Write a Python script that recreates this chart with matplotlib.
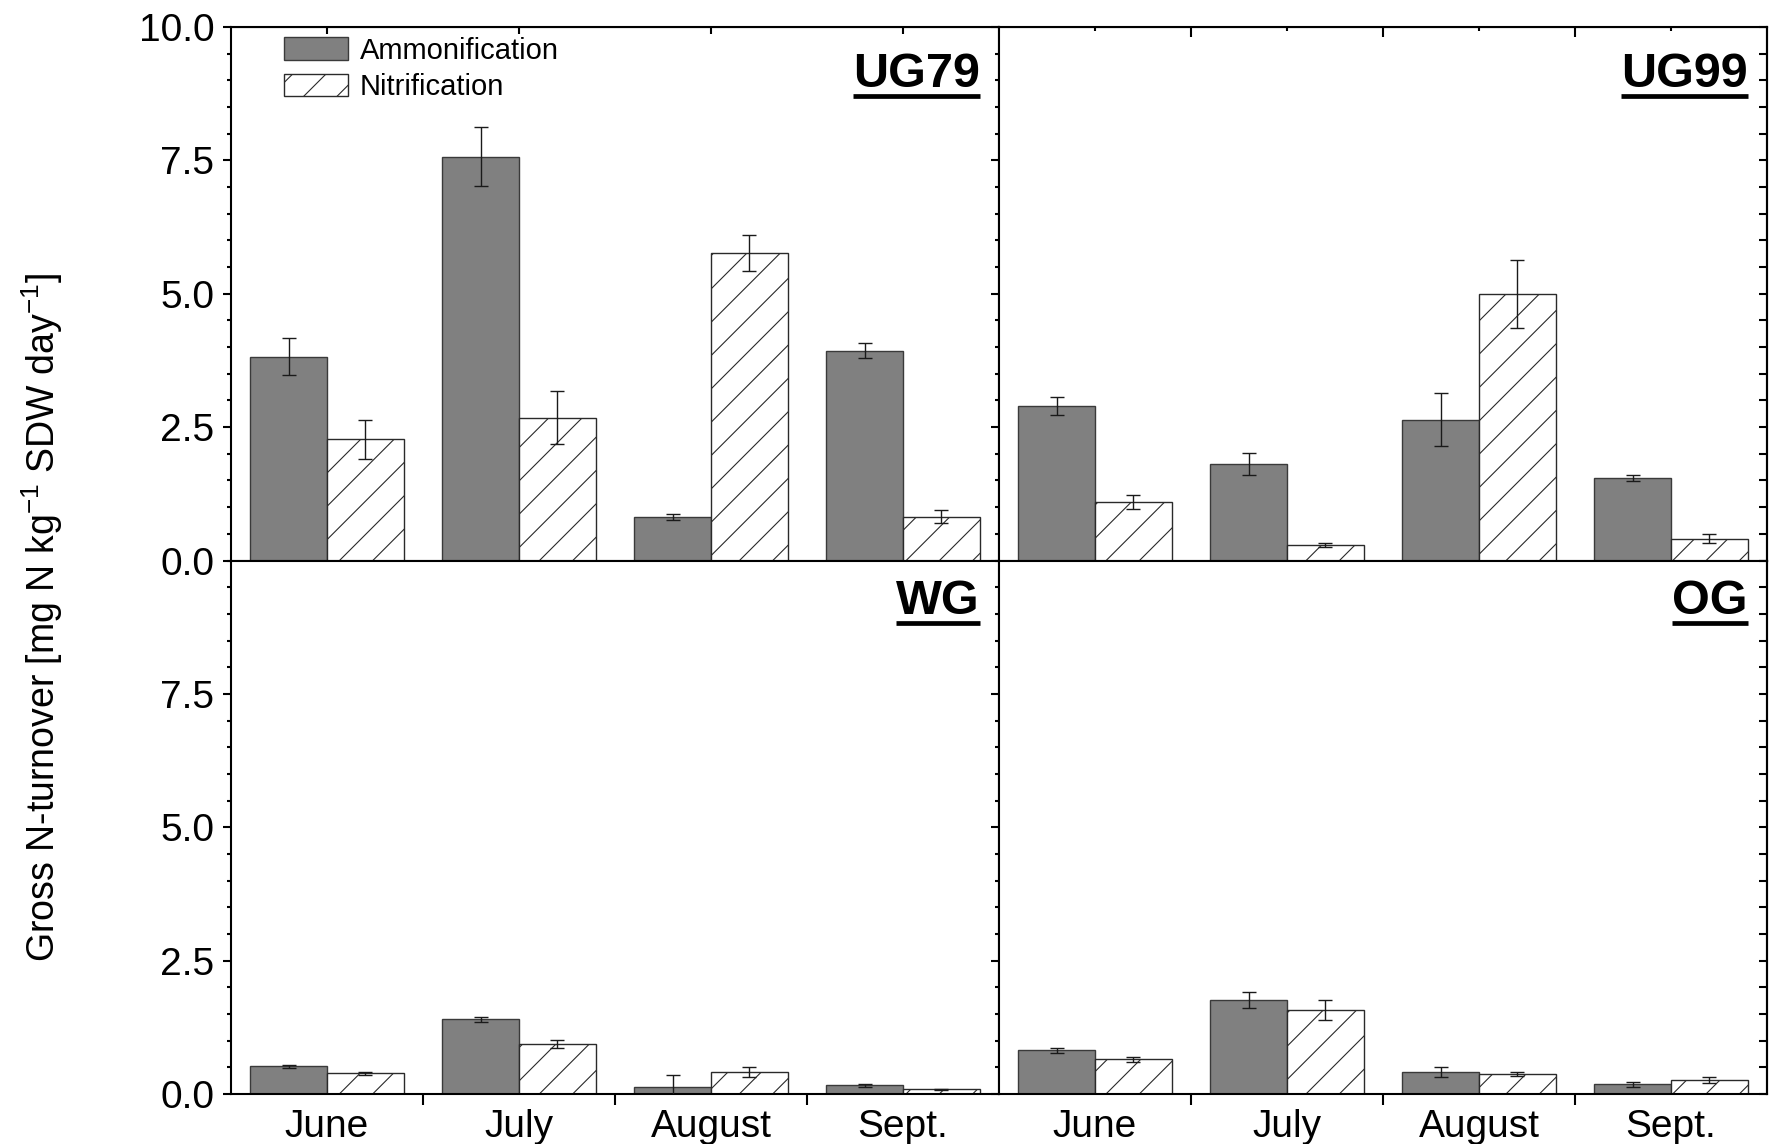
import numpy as np
import matplotlib
matplotlib.use("Agg")
import matplotlib.pyplot as plt
from matplotlib.ticker import MultipleLocator, FormatStrFormatter

plt.rcParams["font.family"] = ["Liberation Sans", "DejaVu Sans"]
plt.rcParams["mathtext.fontset"] = "custom"
plt.rcParams["mathtext.rm"] = "Liberation Sans"
plt.rcParams["mathtext.it"] = "Liberation Sans:italic"
plt.rcParams["hatch.linewidth"] = 0.8

months = ["June", "July", "August", "Sept."]
sites = ["UG79", "UG99", "WG", "OG"]

ammon_ug79 = [3.82, 7.57, 0.82, 3.93]
ammon_ug79_err = [0.35, 0.55, 0.06, 0.14]
nitr_ug79 = [2.27, 2.68, 5.77, 0.82]
nitr_ug79_err = [0.37, 0.50, 0.34, 0.12]

ammon_ug99 = [2.90, 1.81, 2.64, 1.55]
ammon_ug99_err = [0.17, 0.21, 0.50, 0.06]
nitr_ug99 = [1.09, 0.29, 5.00, 0.41]
nitr_ug99_err = [0.13, 0.04, 0.64, 0.09]

ammon_wg = [0.52, 1.40, 0.13, 0.16]
ammon_wg_err = [0.03, 0.05, 0.22, 0.03]
nitr_wg = [0.39, 0.94, 0.41, 0.09]
nitr_wg_err = [0.025, 0.08, 0.09, 0.01]

ammon_og = [0.82, 1.77, 0.41, 0.18]
ammon_og_err = [0.05, 0.15, 0.09, 0.04]
nitr_og = [0.65, 1.57, 0.37, 0.27]
nitr_og_err = [0.05, 0.19, 0.04, 0.055]

panels = {
    "UG79": (ammon_ug79, ammon_ug79_err, nitr_ug79, nitr_ug79_err),
    "UG99": (ammon_ug99, ammon_ug99_err, nitr_ug99, nitr_ug99_err),
    "WG": (ammon_wg, ammon_wg_err, nitr_wg, nitr_wg_err),
    "OG": (ammon_og, ammon_og_err, nitr_og, nitr_og_err),
}

GREY = "#808080"
W = 0.4
TICK = 28
LW = 1.5

fig, axes = plt.subplots(2, 2, figsize=(17.69, 11.44), dpi=100)
fig.subplots_adjust(left=0.1306, right=0.9989, top=0.9764, bottom=0.0437,
                    wspace=0, hspace=0)

centers = np.arange(len(months)) + 0.5
labels = {}
for ax, site in zip(axes.flat, sites):
    am, am_e, ni, ni_e = panels[site]
    ax.bar(centers - W / 2, am, W, color=GREY, edgecolor="#3a3a3a",
           linewidth=1, label="Ammonification", zorder=2)
    ax.bar(centers + W / 2, ni, W, color="white", edgecolor="#2a2a2a",
           hatch="/", linewidth=1, label="Nitrification", zorder=2)
    ax.errorbar(centers - W / 2, am, yerr=am_e, fmt="none", ecolor="#1a1a1a",
                elinewidth=1, capsize=5, capthick=1, zorder=3)
    ax.errorbar(centers + W / 2, ni, yerr=ni_e, fmt="none", ecolor="#1a1a1a",
                elinewidth=1, capsize=5, capthick=1, zorder=3)

    ax.set_xlim(0, 4)
    ax.set_ylim(0, 10)
    for s in ax.spines.values():
        s.set_linewidth(LW)

    # y ticks: outward on the left, inward on the far right spine
    ax.yaxis.set_minor_locator(MultipleLocator(0.5))
    top_row = site in ("UG79", "UG99")
    left_col = site in ("UG79", "WG")
    ax.set_yticks([0, 2.5, 5, 7.5, 10] if top_row else [0, 2.5, 5, 7.5])
    ax.tick_params(axis="y", which="major", direction="out", length=6,
                   width=LW, labelsize=TICK, pad=6)
    ax.tick_params(axis="y", which="minor", direction="out", length=3, width=LW)
    if left_col:
        ax.yaxis.set_major_formatter(FormatStrFormatter("%.1f"))
    else:
        ax.tick_params(axis="y", labelleft=False)
        sec = ax.secondary_yaxis("right")
        sec.set_yticks(np.arange(0, 10.01, 0.5))
        sec.tick_params(direction="in", length=6, width=LW, labelright=False)
        sec.spines["right"].set_linewidth(LW)

    # x ticks differ per panel in the original
    if site == "UG79":
        ax.set_xticks(centers)
        ax.tick_params(axis="x", direction="out", length=8, width=LW,
                       labelbottom=False)
        sec = ax.secondary_xaxis("top")
        sec.set_xticks(centers)
        sec.tick_params(direction="in", length=5, width=LW, labeltop=False)
    elif site == "UG99":
        ax.set_xticks([1, 2, 3])
        ax.tick_params(axis="x", direction="out", length=8, width=LW,
                       labelbottom=False)
        sec = ax.secondary_xaxis("top")
        sec.set_xticks([1, 2, 3])
        sec.set_xticks(centers, minor=True)
        sec.tick_params(which="major", direction="in", length=7, width=LW,
                        labeltop=False)
        sec.tick_params(which="minor", direction="in", length=3, width=LW)
    else:
        ax.set_xticks(centers, months)
        ax.set_xticks([1, 2, 3], minor=True)
        ax.tick_params(axis="x", which="major", length=0, labelsize=TICK, pad=11)
        ax.tick_params(axis="x", which="minor", direction="out", length=8,
                       width=LW)

    y0 = 0.888 if top_row else 0.899
    labels[site] = ax.text(0.975, y0, site, transform=ax.transAxes,
                           ha="right", va="baseline", fontsize=35,
                           fontweight="bold")

axes[0, 0].legend(loc="upper left", bbox_to_anchor=(0.069, 0.982),
                  frameon=False, fontsize=21, handlelength=2.2,
                  handleheight=0.8, handletextpad=0.4, labelspacing=0.3,
                  borderpad=0, borderaxespad=0)

fig.text(0.024, 0.46,
         r"Gross N-turnover [mg N kg$^{-1}$ SDW day$^{-1}$]",
         rotation=90, ha="center", va="center", fontsize=27)

# underline the panel titles
fig.canvas.draw()
renderer = fig.canvas.get_renderer()
for ax, site in zip(axes.flat, sites):
    bb = labels[site].get_window_extent(renderer)
    inv = ax.transAxes.inverted()
    (x0, yb), (x1, _) = inv.transform([(bb.x0, bb.y0), (bb.x1, bb.y1)])
    ax.plot([x0, x1], [yb + 0.002, yb + 0.002], transform=ax.transAxes,
            color="black", lw=3.4, solid_capstyle="butt", clip_on=False)

fig.savefig("out.png", dpi=100)
